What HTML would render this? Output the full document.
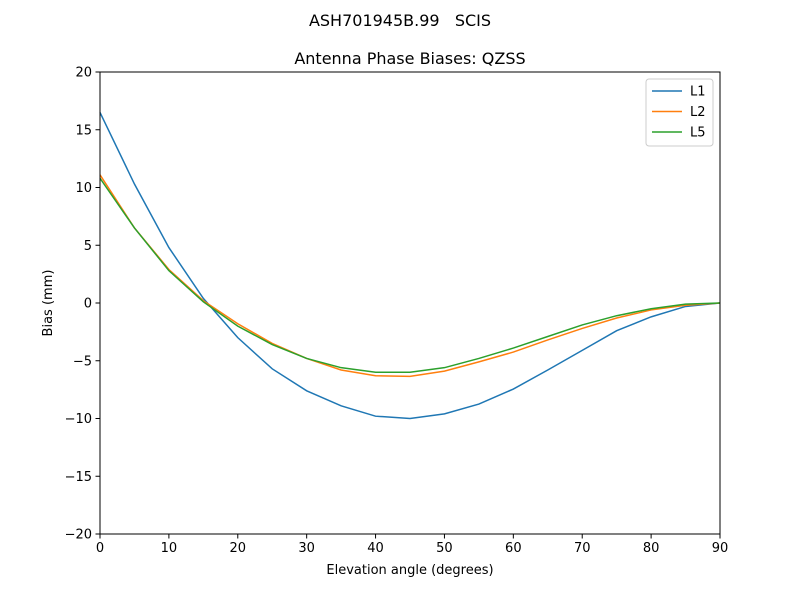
<!DOCTYPE html>
<html><head><meta charset="utf-8"><style>
body{margin:0;background:#fff;font-family:"Liberation Sans","DejaVu Sans",sans-serif;}
svg text{font-family:"DejaVu Sans","Liberation Sans",sans-serif;}
</style></head><body>
<svg id="chart" width="800" height="600" xmlns="http://www.w3.org/2000/svg">
<rect width="800" height="600" fill="#fff"/>
<text x="400" y="26" text-anchor="middle" font-size="16">ASH701945B.99&#160;&#160;&#160;SCIS</text>
<text x="410" y="64" text-anchor="middle" font-size="16">Antenna Phase Biases: QZSS</text>
<g id="axes"></g>
<g id="lines"></g>
<rect x="100" y="72" width="620" height="462" fill="none" stroke="#000" stroke-width="1"/>
<text x="410" y="574" text-anchor="middle" font-size="13">Elevation angle (degrees)</text>
<text transform="translate(52,303) rotate(-90)" text-anchor="middle" font-size="13">Bias (mm)</text>
<g id="legend"></g>
</svg>
<script>
const elevations=[0,5,10,15,20,25,30,35,40,45,50,55,60,65,70,75,80,85,90];
const l1=[16.5,10.3,4.8,0.4,-3.0,-5.7,-7.6,-8.9,-9.8,-10.0,-9.6,-8.75,-7.45,-5.8,-4.1,-2.4,-1.2,-0.3,0];
const l2=[11.1,6.5,2.9,0.2,-1.8,-3.5,-4.8,-5.8,-6.3,-6.35,-5.9,-5.1,-4.25,-3.2,-2.2,-1.3,-0.6,-0.2,0];
const l5=[10.8,6.5,2.8,0.1,-2.0,-3.6,-4.8,-5.6,-6.0,-6.0,-5.6,-4.8,-3.9,-2.9,-1.9,-1.1,-0.5,-0.1,0];
const xTicks=[0,10,20,30,40,50,60,70,80,90];
const yTicks=[-20,-15,-10,-5,0,5,10,15,20];
const seriesNames=["L1","L2","L5"];
const NS="http://www.w3.org/2000/svg";
const X=v=>100+(v-0)/90*620;
const Y=v=>534-(v+20)/40*462;
function mk(tag,attrs,parent){const e=document.createElementNS(NS,tag);for(const k in attrs)e.setAttribute(k,attrs[k]);parent.appendChild(e);return e;}
const ax=document.getElementById('axes');
xTicks.forEach(t=>{
  const l=mk('line',{x1:X(t),x2:X(t),y1:534,y2:538.5,stroke:'#000'},ax);
  
  
  const tx=mk('text',{x:X(t),y:552,'text-anchor':'middle','font-size':'13'},ax);
  tx.textContent=t;
  
  
});
yTicks.forEach(t=>{
  const l=mk('line',{x1:95.5,x2:100,y1:Y(t),y2:Y(t),stroke:'#000'},ax);
  
  
  const tx=mk('text',{x:92,y:Y(t)+4.5,'text-anchor':'end','font-size':'13'},ax);
  tx.textContent=t<0?'\u2212'+Math.abs(t):t;
  
  
});
const colors=['#1f77b4','#ff7f0e','#2ca02c'];
const lg=document.getElementById('lines');
[l1,l2,l5].forEach((s,i)=>{
  const p=mk('polyline',{points:s.map((v,j)=>X(elevations[j])+','+Y(v)).join(' '),fill:'none',stroke:colors[i],'stroke-width':'1.5'},lg);
  
  
});
const leg=document.getElementById('legend');
const box=mk('rect',{x:646,y:79,width:67,height:67,rx:3,fill:'#fff','fill-opacity':'0.8',stroke:'#ccc'},leg);


seriesNames.forEach((n,i)=>{
  const y=91+i*20.5;
  const l=mk('line',{x1:652,x2:682,y1:y,y2:y,stroke:colors[i],'stroke-width':'1.5'},leg);
  
  
  const t=mk('text',{x:690,y:y+4.5,'font-size':'13'},leg);
  t.textContent=n;
  
  
});
</script>
</body></html>
